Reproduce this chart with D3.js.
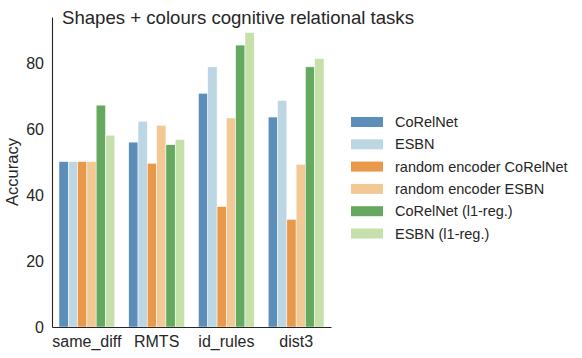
<!DOCTYPE html>
<html>
<head>
<meta charset="utf-8">
<script src="https://cdn.jsdelivr.net/npm/d3@7/dist/d3.min.js"></script>
<style>
  body { margin: 0; background: #fff; }
  svg { display: block; font-family: "Liberation Sans", Arial, sans-serif; }
  .tick text { fill: #262626; }
</style>
</head>
<body>
<div id="chart"></div>
<script>
// ---- data ----
const tasks = ["same_diff", "RMTS", "id_rules", "dist3"];
const models = ["CoRelNet", "ESBN", "random encoder CoRelNet", "random encoder ESBN", "CoRelNet (l1-reg.)", "ESBN (l1-reg.)"];
const colours = ["#5b8fb9", "#bcd6e4", "#e8994b", "#f2c995", "#65a961", "#c5e0a9"];
const corelnet    = [50.1, 56.0, 70.8, 63.6];
const esbn        = [50.1, 62.3, 78.8, 68.6];
const randCorel   = [50.1, 49.6, 36.5, 32.6];
const randEsbn    = [50.1, 61.1, 63.3, 49.3];
const corelnetL1  = [67.2, 55.2, 85.4, 78.8];
const esbnL1      = [58.1, 56.8, 89.2, 81.3];
const series = [corelnet, esbn, randCorel, randEsbn, corelnetL1, esbnL1];
const yTicks = [0, 20, 40, 60, 80];

const width = 582, height = 358;
const margin = { top: 17, right: 251, bottom: 31, left: 52 };
const ink = "#262626";

const svg = d3.select("#chart").append("svg")
  .attr("width", width)
  .attr("height", height);

const x = d3.scaleBand()
  .domain(tasks)
  .range([margin.left, width - margin.right])
  .paddingInner(0.2)
  .paddingOuter(0.1);

const xInner = d3.scaleBand()
  .domain(models)
  .range([0, x.bandwidth()]);

const y = d3.scaleLinear()
  .domain([0, 93.9])
  .range([height - margin.bottom, margin.top]);

// bars
const groups = svg.selectAll(".grp")
  .data(tasks)
  .enter().append("g")
  .attr("class", "grp")
  .attr("transform", d => `translate(${x(d)},0)`);

groups.selectAll("rect")
  .data((t, ti) => models.map((m, mi) => ({ model: m, value: series[mi][ti], colour: colours[mi] })))
  .enter().append("rect")
  .attr("x", d => xInner(d.model))
  .attr("width", xInner.bandwidth())
  .attr("y", d => y(d.value))
  .attr("height", d => y(0) - y(d.value))
  .attr("fill", d => d.colour)
  .attr("stroke", "#fff")
  .attr("stroke-width", 0.5);

// axes
const yAxis = svg.append("g")
  .attr("transform", `translate(${margin.left},0)`)
  .call(d3.axisLeft(y).tickValues(yTicks).tickSize(0).tickPadding(8));
yAxis.select(".domain").attr("stroke", ink).attr("stroke-width", 1.1);
yAxis.selectAll("text").attr("font-size", 16);

const xAxis = svg.append("g")
  .attr("transform", `translate(0,${height - margin.bottom})`)
  .call(d3.axisBottom(x).tickSize(0).tickPadding(9));
xAxis.select(".domain").attr("stroke", ink).attr("stroke-width", 1.1);
xAxis.selectAll("text").attr("font-size", 16).attr("dy", "0.71em");
svg.selectAll(".domain").attr("d", function () { return d3.select(this).attr("d").replace(/V6|V-6|H-6|H6/g, ""); });

// y label
svg.append("text")
  .attr("transform", `translate(18,172) rotate(-90)`)
  .attr("text-anchor", "middle")
  .attr("font-size", 16.5)
  .attr("fill", ink)
  .text("Accuracy");

// title
svg.append("text")
  .attr("x", 238)
  .attr("y", 24)
  .attr("text-anchor", "middle")
  .attr("font-size", 18.6)
  .attr("fill", ink)
  .text("Shapes + colours cognitive relational tasks");

// legend
const legend = svg.append("g").attr("transform", "translate(351,117)");
const item = legend.selectAll("g")
  .data(models)
  .enter().append("g")
  .attr("transform", (d, i) => `translate(0,${i * 22.3})`);
item.append("rect")
  .attr("width", 32)
  .attr("height", 10)
  .attr("fill", (d, i) => colours[i]);
item.append("text")
  .attr("x", 44)
  .attr("y", 5)
  .attr("dy", "0.35em")
  .attr("font-size", 14.5)
  .attr("fill", ink)
  .text(d => d);
</script>
</body>
</html>
